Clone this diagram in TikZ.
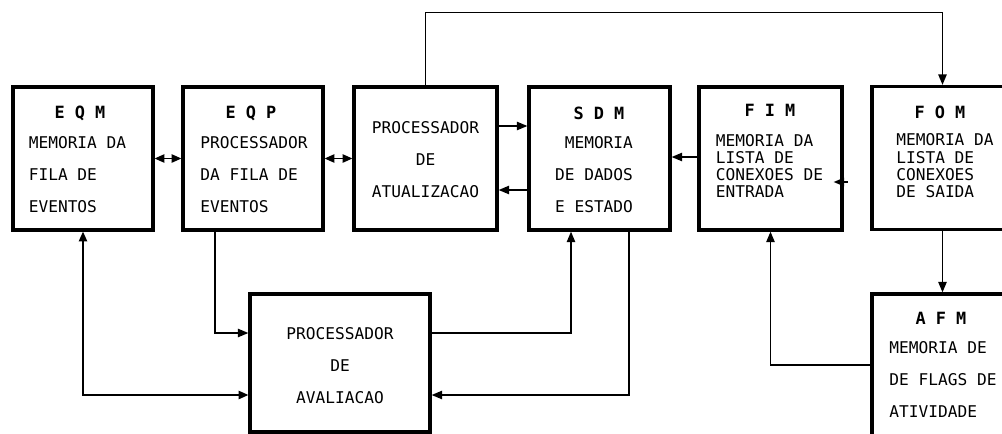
\documentclass[tikz,border=0pt]{standalone}
\usepackage{fontspec}
\setmonofont{DejaVu Sans Mono}
\usetikzlibrary{arrows.meta,calc}

\begin{document}
\begin{tikzpicture}[x=0.025cm, y=-0.025cm,
    bloco/.style={draw, line width=2.3pt, minimum height=3.575cm, inner sep=0pt},
    titulo/.style={font=\ttfamily\bfseries\fontsize{12}{14}\selectfont},
    texto/.style={font=\ttfamily\fontsize{11.5}{22.8}\selectfont, inner sep=0pt},
    denso/.style={font=\ttfamily\fontsize{11.5}{12.3}\selectfont, inner sep=0pt},
    liga/.style={line width=1pt, -{Triangle[length=7.5pt,width=6pt]}},
    liga2/.style={line width=1pt, {Triangle[length=7pt,width=6pt]}-{Triangle[length=7pt,width=6pt]}}]
    \useasboundingbox (0,0) rectangle (1002,434);
    \clip (0,0) rectangle (1002,434);

    % ========= blocos da linha de cima =========
    \node[bloco, minimum width=3.5cm]   (eqm) at (83,158.5) {};
    \node[bloco, minimum width=3.5cm]   (eqp) at (253,158.5) {};
    \node[bloco, minimum width=3.575cm] (pat) at (425.5,158.5) {};
    \node[bloco, minimum width=3.525cm] (sdm) at (599.5,158.5) {};
    \node[bloco, minimum width=3.575cm] (fim) at (770.5,158.5) {};
    \node[bloco, minimum width=3.525cm] (fom) at (942.5,158) {};

    % ========= blocos de baixo =========
    \node[bloco, minimum width=4.5cm, minimum height=3.45cm]  (pav) at (340,363) {};
    \node[bloco, minimum width=3.525cm, minimum height=3.75cm] (afm) at (942.5,369) {};

    % textos dos blocos
    \node[titulo] (teqm) at (80,113) {E Q M};
    \node[texto, align=left] (beqm) at (77.5,175) {MEMORIA DA\\FILA DE\\EVENTOS};
    \node[titulo] (teqp) at (251,113) {E Q P};
    \node[texto, align=left] (beqp) at (254,175) {PROCESSADOR\\DA FILA DE\\EVENTOS};
    \node[texto, align=center] (bpat) at (425.5,160) {PROCESSADOR\\DE\\ATUALIZACAO};
    \node[titulo] (tsdm) at (599,113) {S D M};
    \node[texto, align=right] (bsdm) at (594,175) {MEMORIA\\DE DADOS\\E ESTADO};
    \node[titulo] (tfim) at (770,110) {F I M};
    \node[denso, align=left] (bfim) at (769.5,166) {MEMORIA DA\\LISTA DE\\CONEXOES DE\\ENTRADA};
    \node[titulo] (tfom) at (940,112) {F O M};
    \node[denso, align=left] (bfom) at (945,166) {MEMORIA DA\\LISTA DE\\CONEXOES\\DE SAIDA};
    \node[texto, align=center] (bpav) at (340,366) {PROCESSADOR\\DE\\AVALIACAO};
    \node[titulo] (tafm) at (941,318) {A F M};
    \node[texto, align=left] (bafm) at (943,379.5) {MEMORIA DE\\DE FLAGS DE\\ATIVIDADE};

    % ligacoes horizontais
    \draw[liga2] (eqm.east) -- (eqp.west);
    \draw[liga2] (eqp.east) -- (pat.west);
    \draw[liga] (pat.east |- 0,126) -- (sdm.west |- 0,126);
    \draw[liga] (sdm.west |- 0,190) -- (pat.east |- 0,190);
    \draw[liga] (fim.west |- 0,157) -- (sdm.east |- 0,157);
    \draw[liga] ($(fim.east |- 0,182)+(4,0)$) -- ++(-14,0);

    % ligacao por cima
    \draw[liga] (pat.north) -- ++(0,-73) -| (fom.north);

    % ligacoes com o processador de avaliacao
    \draw[liga] ($(eqp.south)+(-38,0)$) |- (pav.west |- 0,333);
    \draw[liga2] (eqm.south) |- (pav.west |- 0,395);
    \draw[liga] (pav.east |- 0,333) -| ($(sdm.south)+(-28.5,0)$);
    \draw[liga] ($(sdm.south)+(29.5,0)$) |- (pav.east |- 0,395);

    % ligacoes da direita
    \draw[liga] (fom.south) -- (afm.north);
    \draw[liga] (afm.west |- 0,365) -| (fim.south);
\end{tikzpicture}
\end{document}
